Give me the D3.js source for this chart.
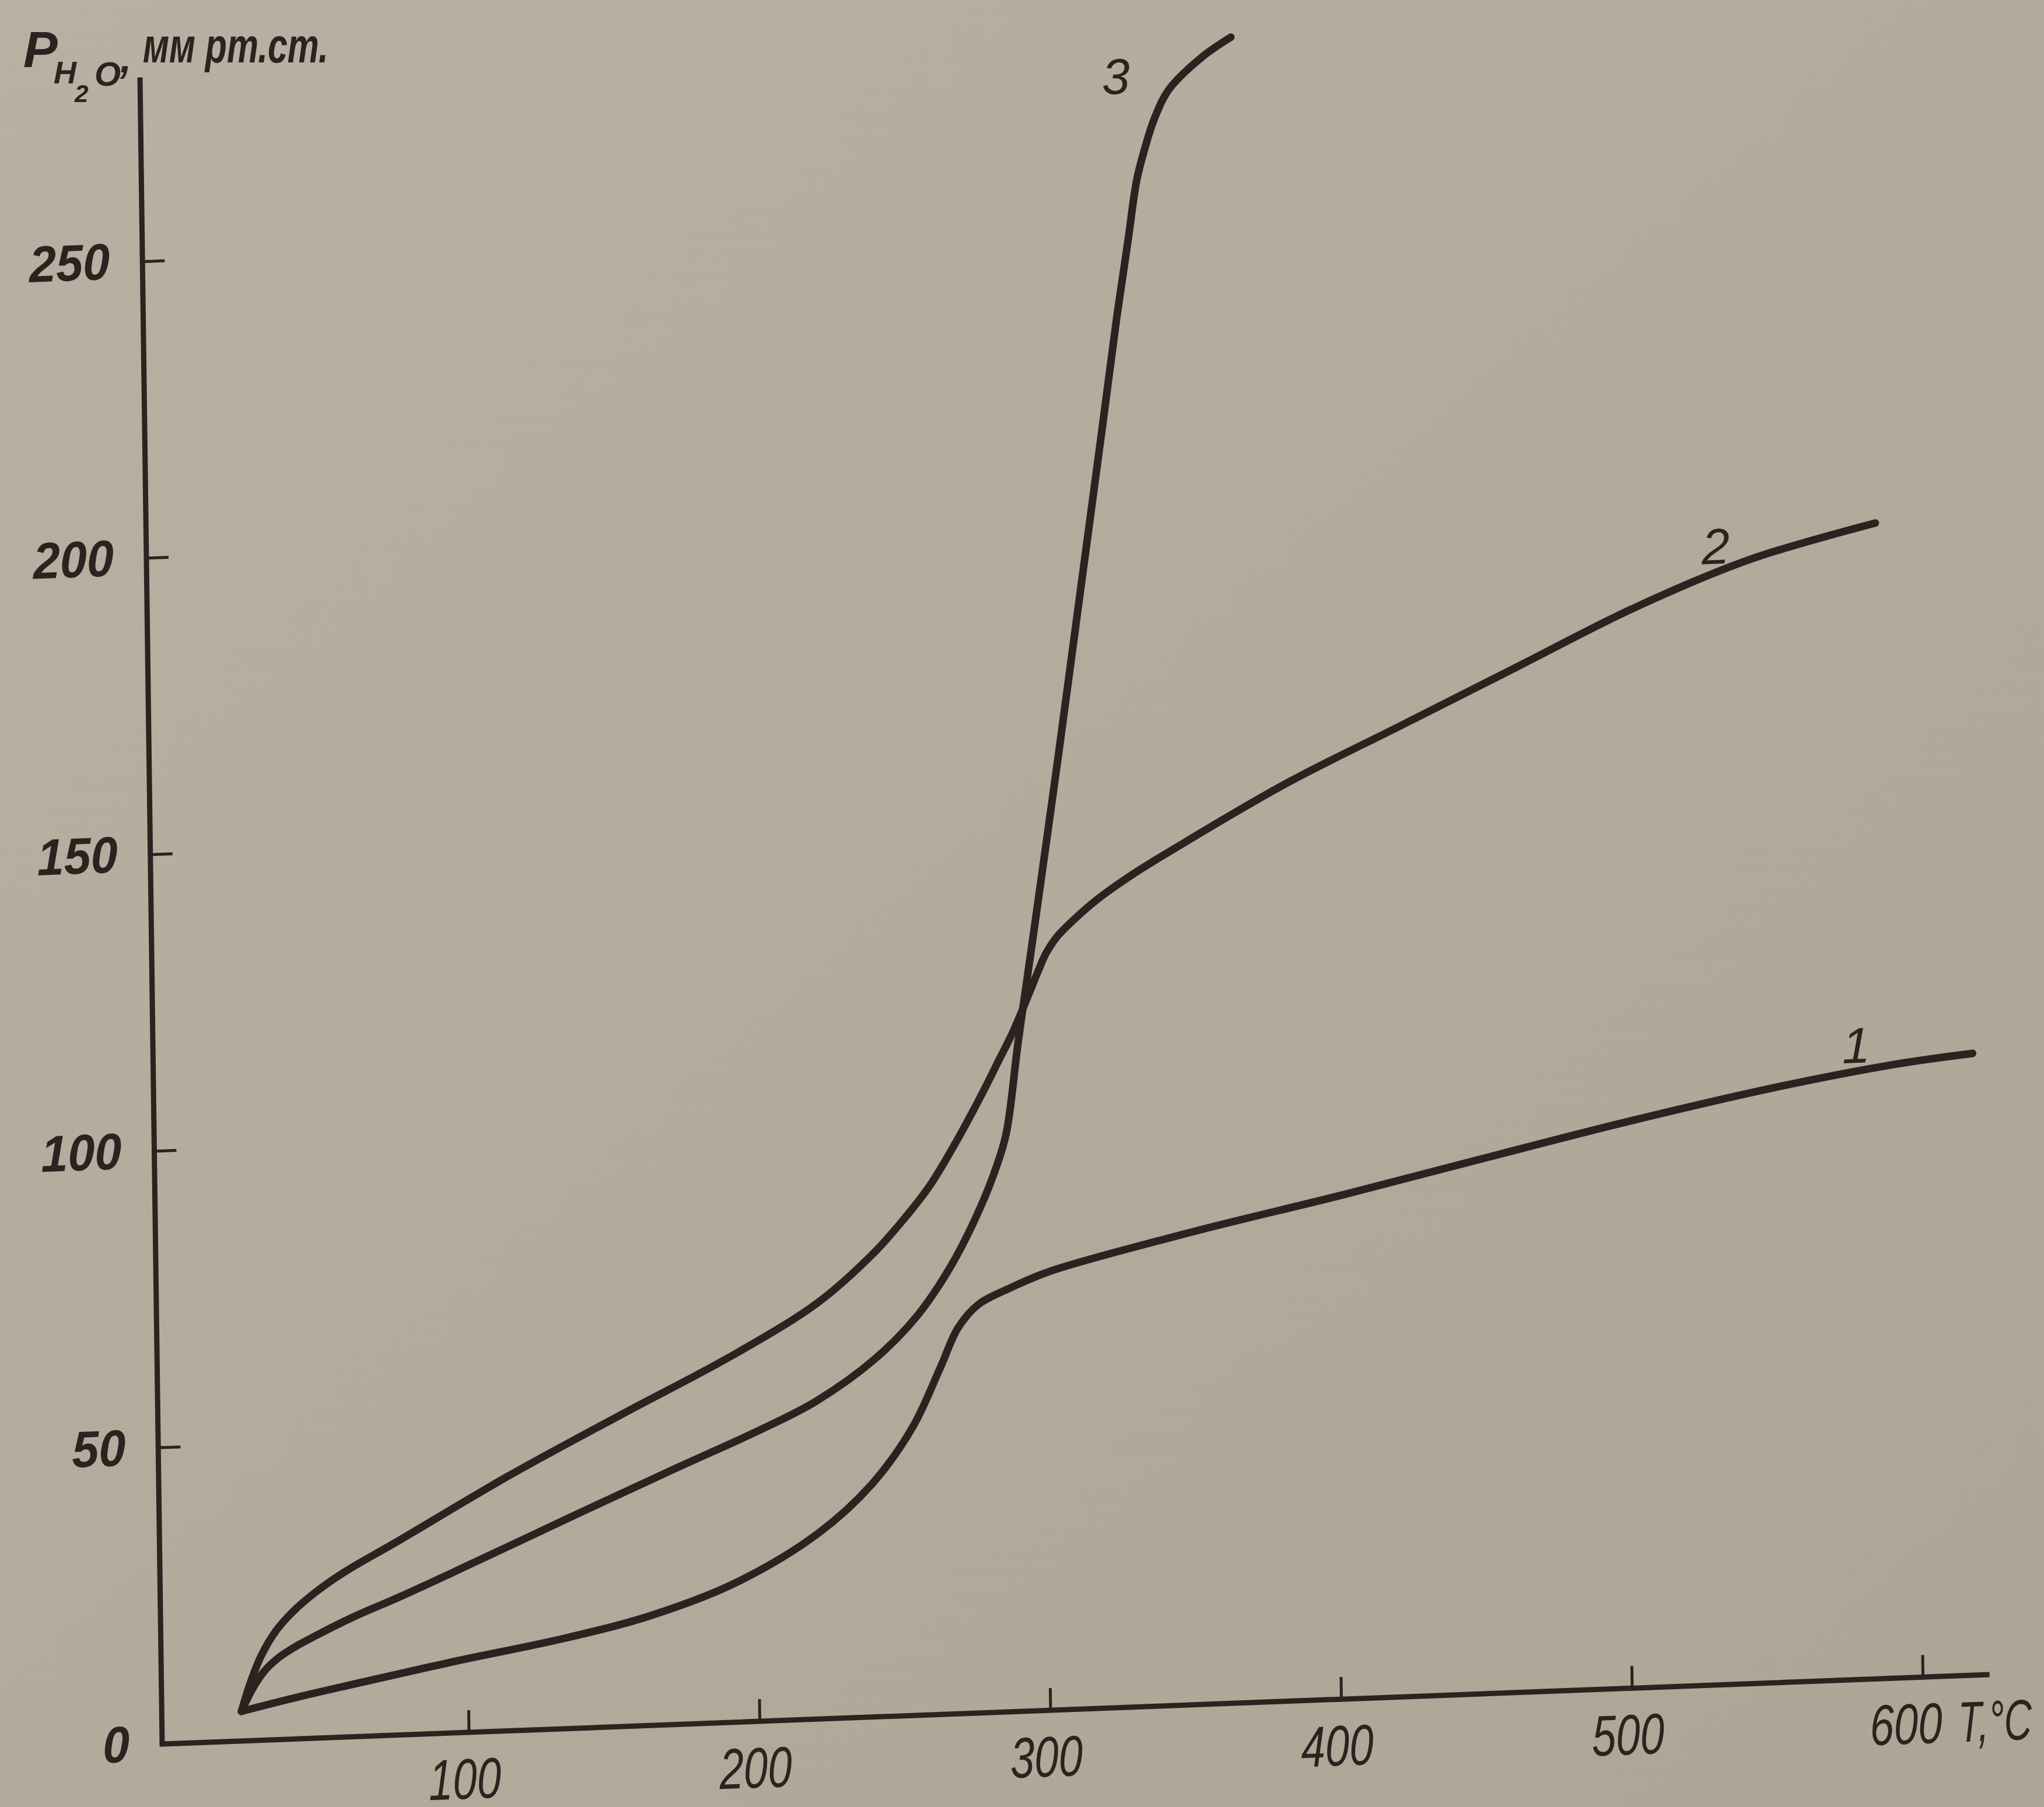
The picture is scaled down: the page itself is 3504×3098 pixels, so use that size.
<!DOCTYPE html>
<html lang="ru">
<head>
<meta charset="UTF-8">
<title>P(H2O) vs T</title>
<script src="https://d3js.org/d3.v7.min.js"></script>
<style>
    body { margin: 0; background: #b3ab9d; }
    text {
        font-family: 'Liberation Sans', 'DejaVu Sans', sans-serif;
        font-style: italic;
        fill: #2a231f;
    }
    .curve {
        fill: none;
        stroke: #2a231f;
        stroke-width: 13;
        stroke-linecap: round;
        stroke-linejoin: round;
    }
    .axis-line { fill: none; stroke: #2a231f; stroke-width: 9; }
    .tick line { stroke: #2a231f; stroke-width: 5; }
</style>
</head>
<body>
<script>

    const width = 3504;
    const height = 3098;

    // axis ticks
    const tempTicks = [100, 200, 300, 400, 500, 600];
    const pressTicks = [0, 50, 100, 150, 200, 250];

    // curve 1
    const t1 = [22, 40, 60, 95, 134, 163, 192, 221, 240, 254, 264, 270, 277, 289, 302, 350, 403, 452, 502, 554, 594, 620];
    const p1 = [5, 6.9, 8.8, 12.0, 15.3, 18.5, 23.4, 31.3, 39.4, 48.6, 58.7, 65.0, 68.8, 71.6, 74.0, 79.6, 85.0, 90.3, 95.6, 100.5, 103.5, 104.8];

    // curve 2
    const t2 = [22, 25, 29, 34, 40, 48, 58, 77, 115, 154, 193, 222, 241, 251, 261, 270, 279, 285, 290, 295, 299, 302, 306, 312, 320, 332, 344, 385, 425, 465, 506, 546, 589];
    const p2 = [5, 9.5, 14.2, 18.2, 21.4, 24.6, 27.8, 32.8, 43.0, 52.6, 62.0, 70.2, 78.0, 83.2, 89.2, 96.2, 104.0, 109.6, 114.3, 119.8, 124.4, 127.6, 130.4, 133.2, 136.4, 140.3, 143.7, 154.6, 163.7, 172.8, 182.1, 189.5, 194.8];

    // curve 3
    const t3 = [22, 26, 30, 35, 41, 48, 60, 77, 96, 134, 173, 202, 221, 241, 256, 268, 278, 284, 287.5, 292, 297, 307, 315, 323, 329.3, 333.5, 336.7, 339.5, 343, 348.2, 359.6, 369.7];
    const p3 = [5, 8.8, 11.6, 13.8, 15.6, 17.3, 20.0, 23.3, 27.2, 35.2, 43.3, 49.2, 53.6, 60.2, 67.3, 75.6, 84.9, 92.0, 97.5, 112.8, 128.5, 160.4, 186.9, 213.4, 234.6, 247.4, 257.3, 262.4, 267.5, 272.4, 277.6, 280.8];

    const curveNames = ["1", "2", "3"];
    // where the curve numbers sit, in data units
    const labelT = [580, 534, 330];
    const labelP = [107, 192, 275];

    const series = [[t1, p1], [t2, p2], [t3, p3]].map(([t, p], i) => ({
        name: curveNames[i],
        points: t.map((v, j) => [v, p[j]]),
        labelT: labelT[i],
        labelP: labelP[i]
    }));

    const x = d3.scaleLinear().domain([0, 600]).range([305, 3296]);
    const y = d3.scaleLinear().domain([0, 250]).range([2990, 448]);

    const axisX = x(0) - 27;   // y axis sits a little left of T = 0
    const xAxisEnd = 623;
    const yAxisTop = 281;

    const svg = d3.select("body").append("svg")
            .attr("width", width).attr("height", height);

    const grad = svg.append("defs").append("linearGradient")
            .attr("id", "paper").attr("x1", 0).attr("y1", 0).attr("x2", 1).attr("y2", 1);
    grad.append("stop").attr("offset", 0).attr("stop-color", "#b8b0a2");
    grad.append("stop").attr("offset", 1).attr("stop-color", "#aea596");

    svg.append("rect").attr("width", width).attr("height", height).attr("fill", "url(#paper)");

    // the printed page is photographed slightly askew
    const sx = -0.038, sy = 0.0133;
    const chart = svg.append("g")
            .attr("transform", `matrix(1,${sx},${sy},1,${-sy * y(0)},${-sx * axisX})`);

    chart.append("path").attr("class", "axis-line")
            .attr("d", `M${axisX},${y(yAxisTop)}V${y(0)}H${x(xAxisEnd)}`);

    const xAxis = chart.append("g")
            .attr("transform", `translate(0,${y(0)})`)
            .call(d3.axisBottom(x).tickValues(tempTicks).tickSize(-38).tickSizeOuter(0).tickPadding(44))
            .call(g => g.select(".domain").remove());
    xAxis.attr("font-family", null).attr("font-size", null);
    xAxis.selectAll("text")
            .attr("font-size", 98)
            .attr("dx", d => d === 600 ? -30 : -8)
            .attr("textLength", 124)
            .attr("lengthAdjust", "spacingAndGlyphs");

    const yAxis = chart.append("g")
            .attr("transform", `translate(${axisX},0)`)
            .call(d3.axisLeft(y).tickValues(pressTicks).tickSize(-38).tickSizeOuter(0).tickPadding(56))
            .call(g => g.select(".domain").remove());
    yAxis.attr("font-family", null).attr("font-size", null);
    yAxis.selectAll("text")
            .attr("font-size", 88)
            .attr("font-weight", "bold")
            .attr("textLength", d => String(d).length * 46)
            .attr("lengthAdjust", "spacingAndGlyphs");

    chart.append("text")
            .attr("x", x(600) + 60).attr("y", y(0) + 44).attr("dy", "0.71em")
            .attr("font-size", 98)
            .attr("textLength", 126)
            .attr("lengthAdjust", "spacingAndGlyphs")
            .text("T,°C");

    const line = d3.line()
            .x(d => x(d[0]))
            .y(d => y(d[1]))
            .curve(d3.curveCatmullRom.alpha(0.5));

    chart.selectAll("path.curve")
            .data(series)
            .join("path").attr("class", "curve")
            .attr("d", d => line(d.points));

    chart.selectAll("text.clabel")
            .data(series)
            .join("text").attr("class", "clabel")
            .attr("x", d => x(d.labelT))
            .attr("y", d => y(d.labelP))
            .attr("dy", "0.36em")
            .attr("text-anchor", "middle")
            .attr("font-size", 86)
            .text(d => d.name);

    // axis title, top left
    const title = svg.append("text").attr("font-weight", "bold");
    title.append("tspan").attr("x", 40).attr("y", 115).attr("font-size", 88).text("P");
    title.append("tspan").attr("x", 92).attr("y", 143).attr("font-size", 54).text("H");
    title.append("tspan").attr("x", 128).attr("y", 175).attr("font-size", 42).text("2");
    title.append("tspan").attr("x", 162).attr("y", 147).attr("font-size", 58).text("O");
    title.append("tspan").attr("x", 206).attr("y", 124).attr("font-size", 70).text(",");
    title.append("tspan").attr("x", 245).attr("y", 107).attr("font-size", 84)
            .attr("textLength", 318).attr("lengthAdjust", "spacingAndGlyphs")
            .text("мм рт.ст.");

</script>
</body>
</html>
